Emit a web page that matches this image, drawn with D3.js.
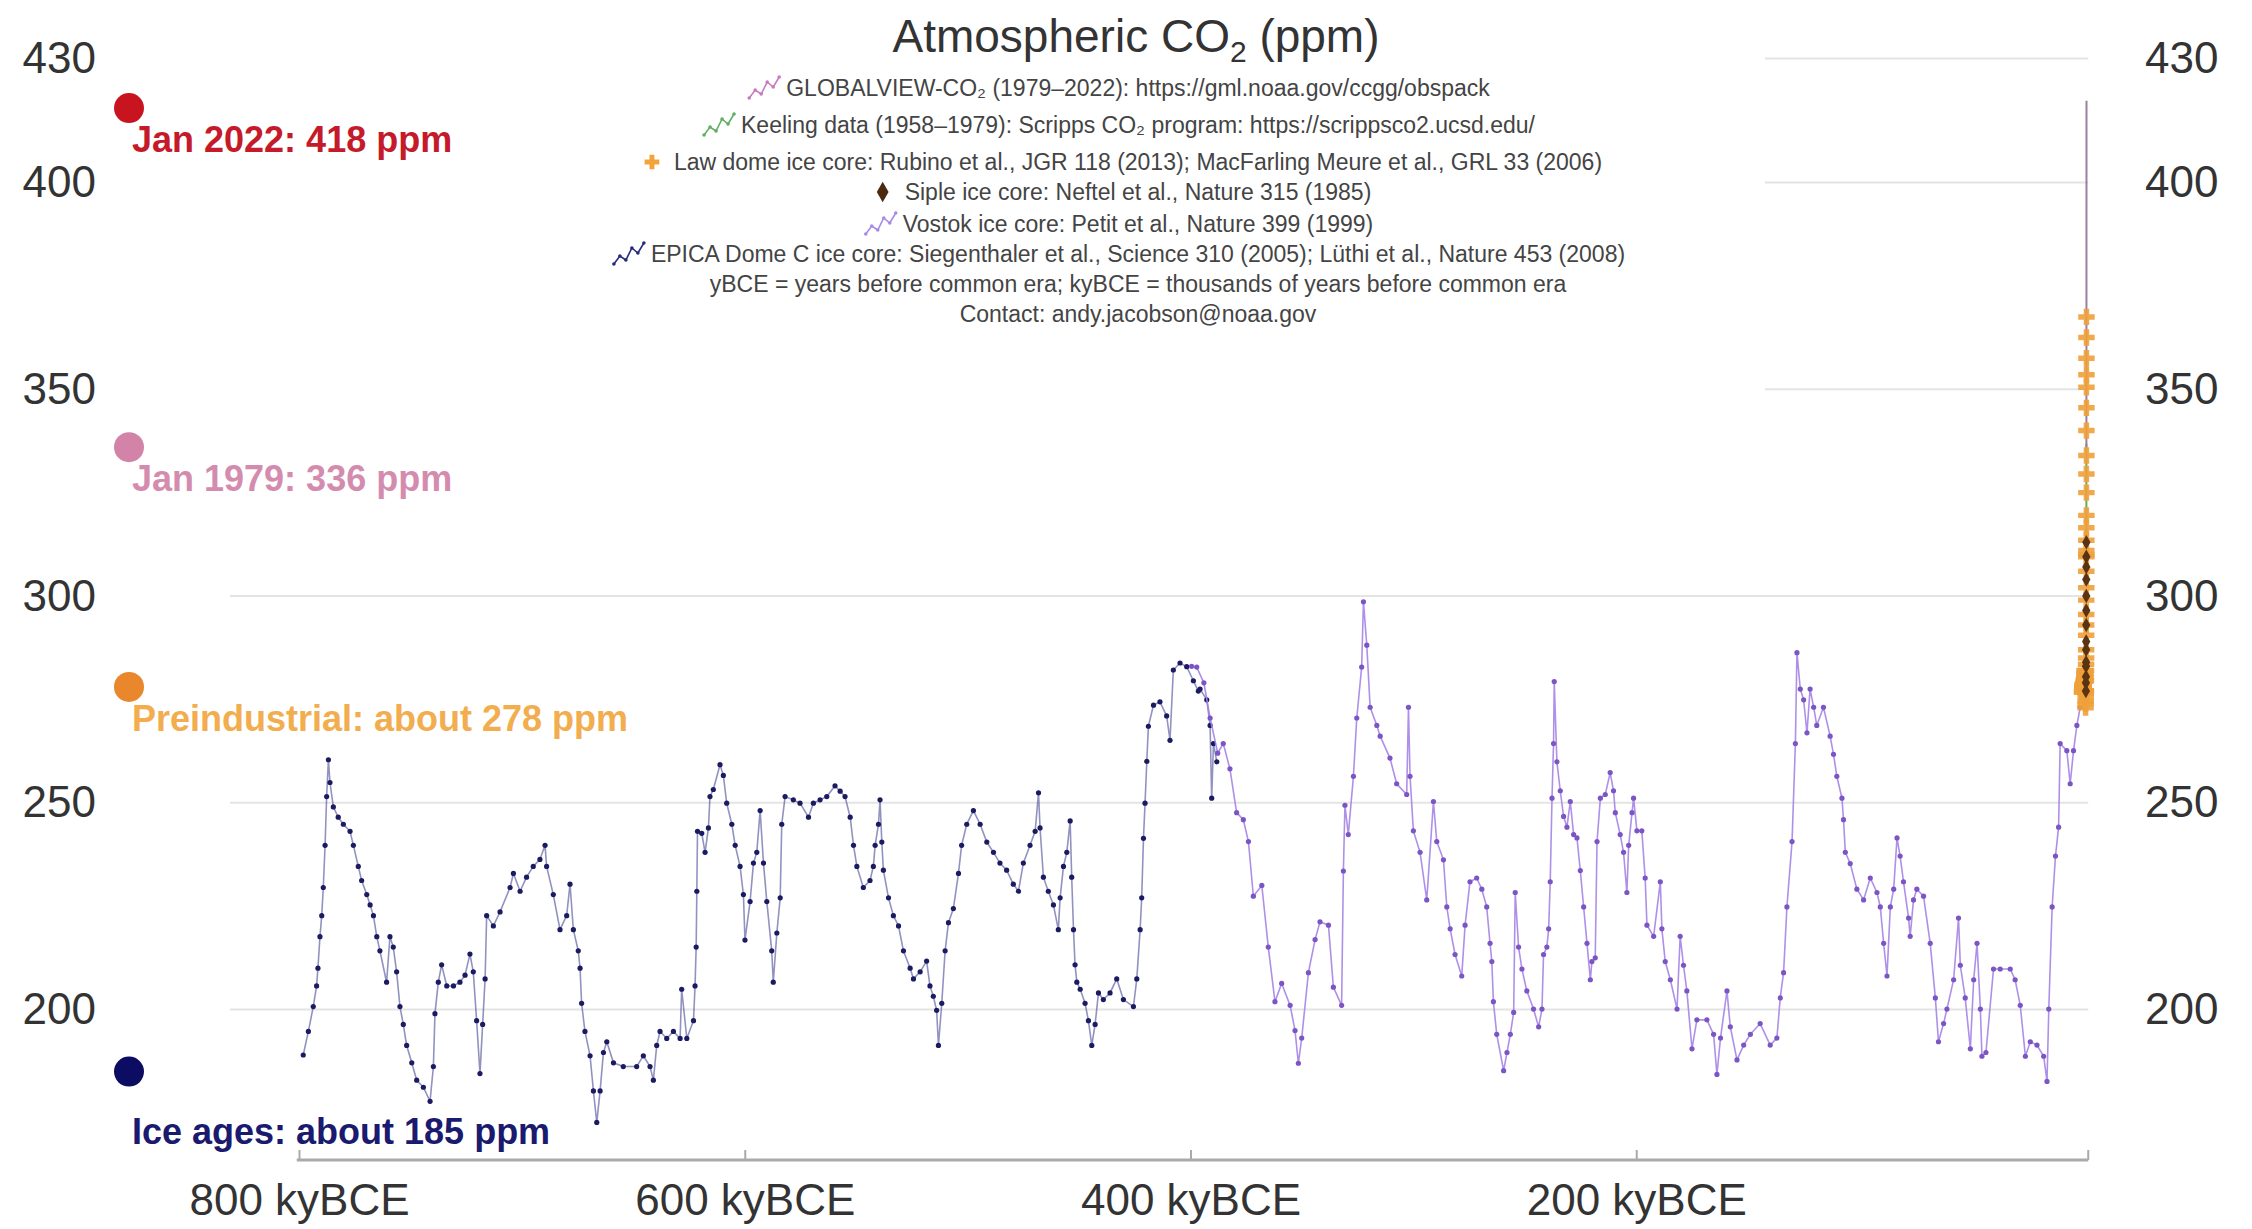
<!DOCTYPE html>
<html>
<head>
<meta charset="utf-8">
<title>Atmospheric CO2 (ppm)</title>
<script src="https://cdn.jsdelivr.net/npm/d3@7"></script>
<style>
  html, body { margin: 0; padding: 0; background: #fff; }
  svg { display: block; font-family: "Liberation Sans", Arial, Helvetica, sans-serif; }
</style>
</head>
<body>
<div id="chart"></div>
<script>
// ---- values ----

// EPICA Dome C ice core: [age kyBCE, CO2 ppm]
const epicaDomeC = [
  [798.1,189.0],[795.8,194.7],[793.6,200.7],[792.1,205.7],[791.5,210.0],[790.6,217.6],[789.8,222.7],[789.1,229.5],
  [788.3,239.7],[787.6,251.5],[786.8,260.4],[786.1,254.9],[784.6,249.0],[782.4,246.5],[780.1,244.8],[777.1,243.1],
  [775.6,239.7],[773.4,234.6],[771.9,231.2],[769.6,227.8],[768.1,225.3],[766.6,222.7],[765.1,217.6],[763.7,214.2],
  [760.7,206.6],[759.2,217.6],[757.7,215.1],[756.2,209.1],[754.7,200.7],[753.2,196.4],[751.7,191.3],[749.4,187.1],
  [747.2,182.9],[744.2,181.2],[741.2,177.8],[739.7,186.2],[739.0,199.0],[737.5,206.6],[736.0,210.8],[733.7,205.7],
  [730.7,205.7],[727.8,206.6],[725.5,208.3],[723.3,213.4],[721.8,209.1],[720.3,197.3],[718.8,184.5],[717.6,196.4],
  [716.5,207.4],[715.8,222.7],[712.8,220.2],[709.8,223.6],[705.3,229.5],[703.8,232.9],[700.8,228.6],[697.9,232.0],
  [694.9,234.6],[691.9,236.3],[689.6,239.7],[688.9,234.6],[685.9,227.8],[682.9,219.3],[679.9,222.7],[678.4,230.3],
  [676.9,219.3],[674.7,214.2],[673.9,210.0],[673.2,201.5],[671.7,194.7],[669.4,188.8],[667.9,180.3],[666.4,172.7],
  [664.9,180.3],[663.4,189.6],[661.9,192.2],[658.9,187.1],[654.5,186.2],[648.5,186.2],[645.5,188.8],[642.5,186.2],
  [641.0,182.9],[639.5,191.3],[638.0,194.7],[635.0,193.0],[632.0,194.7],[629.0,193.0],[628.3,204.9],[626.0,193.0],
  [623.0,197.3],[622.3,205.7],[621.8,215.1],[621.5,228.6],[621.2,243.1],[619.3,242.6],[617.8,238.0],[616.3,243.9],
  [615.6,251.5],[614.1,253.2],[611.1,259.2],[609.6,256.6],[608.1,249.9],[605.8,244.8],[604.3,239.7],[602.1,234.6],
  [600.6,227.8],[599.9,216.8],[597.6,226.1],[596.1,235.4],[594.6,238.0],[593.1,248.1],[591.6,235.4],[590.1,226.1],
  [587.9,214.2],[587.2,206.6],[585.6,218.5],[584.1,227.0],[583.4,244.8],[581.9,251.5],[578.2,250.7],[575.2,249.9],
  [571.4,246.5],[569.2,249.9],[566.2,250.7],[563.2,251.5],[559.5,254.1],[557.2,252.8],[555.0,251.5],[552.7,246.5],
  [551.2,239.7],[549.7,234.6],[546.8,229.5],[543.8,231.2],[542.3,234.6],[541.5,239.7],[540.0,244.8],[539.3,250.7],
  [538.5,240.5],[537.8,233.7],[535.5,227.0],[533.3,222.7],[531.0,220.2],[528.8,214.2],[525.8,210.0],[524.3,207.4],
  [521.3,209.1],[518.4,211.7],[516.9,205.7],[515.4,203.2],[513.9,199.8],[513.1,191.3],[511.6,201.5],[510.1,214.2],
  [508.6,221.0],[506.4,224.4],[504.1,232.9],[502.7,239.7],[500.4,244.8],[497.4,248.1],[494.4,244.8],[491.4,240.5],
  [488.4,238.0],[485.5,235.4],[482.5,233.7],[479.5,230.3],[477.2,228.6],[475.0,235.4],[472.0,239.7],[469.7,243.1],
  [468.2,252.4],[467.5,243.9],[466.0,232.0],[463.8,228.6],[461.5,225.3],[459.3,219.3],[458.5,227.0],[457.0,234.6],
  [455.5,238.0],[454.0,245.6],[453.3,232.0],[452.5,219.3],[451.8,210.8],[451.0,206.6],[449.5,204.9],[447.3,201.5],
  [445.8,197.3],[444.3,191.3],[442.8,196.4],[441.3,204.0],[439.1,202.4],[436.1,204.0],[433.1,207.4],[430.1,202.4],
  [425.6,200.7],[424.1,207.4],[422.6,219.3],[421.9,227.0],[421.1,241.4],[420.4,249.9],[419.6,260.0],[418.9,268.5],
  [416.6,273.6],[413.7,274.4],[410.7,271.0],[409.2,265.1],[407.7,282.1],[404.7,283.8],[401.7,282.9],[398.7,279.5],
  [396.5,277.0],[395.7,277.5],[392.7,274.9],[391.2,268.7],[390.5,251.1],[389.7,264.3],[388.2,259.9]
];

// Vostok ice core: [age kyBCE, CO2 ppm]
const vostok = [
  [399.5,283.0],[397.2,282.8],[394.0,279.0],[391.2,270.5],[387.8,262.0],[385.3,264.3],[382.3,258.2],[379.3,247.6],
  [376.3,245.9],[374.0,240.6],[371.8,227.4],[368.0,230.0],[365.1,215.1],[362.1,201.9],[359.1,206.3],[355.3,201.0],
  [353.1,194.9],[351.6,187.0],[350.1,193.1],[347.1,208.9],[344.1,216.9],[341.9,221.2],[338.1,220.4],[335.9,205.4],
  [332.2,201.0],[331.4,233.5],[330.7,249.4],[329.2,242.3],[326.9,256.4],[325.4,270.5],[323.2,282.8],[322.4,298.6],
  [320.9,288.1],[319.4,273.1],[316.4,268.7],[314.9,266.1],[310.5,260.8],[307.5,254.6],[303.0,252.0],[302.2,273.1],
  [301.5,256.4],[300.0,243.2],[297.0,238.0],[294.0,226.5],[291.0,250.3],[289.5,240.6],[286.5,236.2],[285.0,224.8],
  [283.5,219.5],[281.3,213.3],[278.3,208.1],[276.8,220.4],[274.6,230.9],[271.6,231.8],[269.3,229.1],[267.1,224.8],
  [265.6,216.0],[264.8,211.6],[264.1,201.9],[262.6,194.0],[259.5,185.2],[258.0,189.6],[256.5,194.0],[255.0,199.3],
  [254.3,228.3],[252.8,215.1],[251.3,209.8],[249.1,204.5],[246.1,200.1],[243.8,195.8],[242.3,200.1],[241.6,213.3],
  [240.1,215.1],[239.3,219.5],[238.6,230.9],[237.8,251.1],[237.1,264.3],[236.8,279.3],[235.6,259.9],[234.1,252.9],
  [232.6,246.7],[231.1,244.1],[229.6,250.3],[228.1,242.3],[226.6,241.5],[225.1,233.6],[223.6,224.8],[222.1,216.0],
  [220.6,207.2],[219.9,211.6],[218.4,212.5],[217.6,240.6],[216.1,251.1],[213.9,252.0],[211.7,257.3],[210.2,252.9],
  [209.4,247.6],[207.2,242.3],[205.7,238.0],[204.2,228.3],[203.4,239.7],[201.9,247.6],[201.2,251.1],[199.7,243.2],
  [197.5,243.2],[196.0,231.8],[195.2,220.4],[192.2,217.7],[189.2,230.9],[188.5,219.5],[187.0,211.6],[184.7,207.2],
  [181.7,200.1],[180.3,217.7],[178.8,210.7],[177.3,204.5],[175.0,190.5],[172.8,197.5],[168.3,197.5],[165.3,194.0],
  [163.8,184.3],[162.2,193.1],[159.3,204.5],[157.8,195.8],[154.8,187.8],[151.8,191.4],[148.8,194.0],[144.4,196.6],
  [139.9,191.4],[136.9,193.1],[135.4,202.8],[133.9,208.9],[132.4,224.8],[130.1,240.6],[128.6,264.3],[127.9,286.3],
  [126.4,277.5],[124.9,274.9],[123.4,266.9],[122.0,277.5],[120.4,273.1],[119.0,268.7],[116.0,273.1],[113.0,266.1],
  [111.5,261.7],[110.0,256.4],[107.7,251.1],[107.0,245.9],[106.2,238.0],[104.0,235.3],[101.0,229.1],[98.0,226.5],
  [95.0,231.8],[92.0,228.3],[90.5,224.8],[89.0,216.0],[87.5,208.1],[86.0,224.8],[84.5,229.1],[83.0,241.5],
  [81.6,237.1],[80.1,230.9],[77.8,222.1],[77.1,217.7],[75.6,226.5],[74.1,229.1],[71.1,227.4],[68.1,216.0],
  [65.8,202.8],[64.4,192.2],[62.1,196.6],[60.6,200.1],[57.6,207.2],[55.4,222.1],[54.6,210.7],[52.4,202.8],
  [50.1,190.5],[48.6,207.2],[47.1,216.0],[45.6,200.1],[44.9,188.7],[43.1,189.6],[39.7,209.8],[36.7,209.8],
  [32.2,209.8],[30.0,207.2],[27.7,201.0],[25.4,188.7],[23.2,192.2],[20.2,191.4],[17.2,188.7],[15.7,182.6],
  [14.9,200.1],[13.4,224.8],[11.9,237.1],[10.5,244.1],[9.8,264.3],[6.8,262.6],[5.3,254.6],[3.8,262.6],
  [2.3,268.7],[0.8,273.1]
];

// recent records: [year CE, CO2 ppm]
const lawDome = [
  [0,276.7],[50,277.0],[100,277.2],[150,277.5],[200,277.9],[250,278.1],[300,278.0],[350,278.4],[400,278.6],
  [450,278.8],[500,278.5],[550,278.0],[600,277.5],[650,277.4],[700,277.9],[750,278.4],[800,279.0],[850,279.5],
  [900,279.8],[950,279.6],[1000,279.4],[1050,280.0],[1100,280.3],[1150,281.2],[1200,282.0],[1250,281.8],
  [1300,281.5],[1350,280.5],[1400,279.5],[1450,280.3],[1500,281.3],[1550,280.5],[1575,277.0],[1600,273.0],
  [1625,274.0],[1650,274.5],[1675,275.5],[1700,276.5],[1725,277.0],[1750,277.0],[1775,279.5],[1800,282.0],
  [1825,283.5],[1850,285.0],[1865,287.0],[1880,290.5],[1890,293.0],[1900,295.5],[1910,299.0],[1920,302.0],
  [1930,306.0],[1940,309.5],[1945,310.0],[1950,311.0],[1955,313.5],[1960,316.5],[1965,319.5],[1970,325.0],
  [1974,329.5],[1978,334.0],[1982,340.0],[1985,345.5],[1988,350.5],[1990,353.5],[1993,357.5],[1996,362.5],
  [2004,367.5]
];
const siple = [
  [1744,277.0],[1765,279.0],[1790,280.5],[1815,283.0],[1837,284.0],[1856,287.0],[1873,289.0],[1888,293.0],
  [1903,296.5],[1914,300.0],[1925,304.0],[1935,307.0],[1944,309.5],[1953,313.0]
];
const keeling = [[1958,315.3],[1962,318.4],[1966,321.1],[1970,325.6],[1974,330.2],[1979,336.8]];
const globalview = [
  [1979,336.0],[1983,342.0],[1987,348.0],[1991,355.0],[1995,360.0],[1999,367.0],[2003,375.0],[2007,383.0],
  [2011,390.5],[2015,399.5],[2019,410.5],[2021.4,419.8],[2022.0,418.0]
];

const yTicks = [200, 250, 300, 350, 400, 430];
const xTicks = [800, 600, 400, 200];
const xTickLabels = ['800 kyBCE', '600 kyBCE', '400 kyBCE', '200 kyBCE'];

const markerValues = [418, 336, 278, 185];
const markerLabels = ['Jan 2022: 418 ppm', 'Jan 1979: 336 ppm', 'Preindustrial: about 278 ppm', 'Ice ages: about 185 ppm'];

const legendLabels = [
  'GLOBALVIEW-CO\u2082 (1979\u20132022): https://gml.noaa.gov/ccgg/obspack',
  'Keeling data (1958\u20131979): Scripps CO\u2082 program: https://scrippsco2.ucsd.edu/',
  'Law dome ice core: Rubino et al., JGR 118 (2013); MacFarling Meure et al., GRL 33 (2006)',
  'Siple ice core: Neftel et al., Nature 315 (1985)',
  'Vostok ice core: Petit et al., Nature 399 (1999)',
  'EPICA Dome C ice core: Siegenthaler et al., Science 310 (2005); L\u00fcthi et al., Nature 453 (2008)',
  'yBCE = years before common era; kyBCE = thousands of years before common era',
  'Contact: andy.jacobson@noaa.gov'
];

// ---- styles ----
const markerColors = ['#c8141e', '#d483a8', '#e8872c', '#0c0c62'];
const markerTextColors = ['#c41a2a', '#d48cae', '#f2ad4e', '#1a1a6e'];
const markerTextOffset = [44, 44, 44, 72];
const legendIcons = ['zig', 'zig', 'cross', 'diamond', 'zig', 'zig', null, null];
const legendColors = ['#c77bbd', '#63ad63', '#f2a33a', '#4b2a10', '#a98ae8', '#2a2a80', null, null];
const legendRowY = [88, 125, 162, 192, 224, 254, 284, 314];

function drawChart() {
    const width = 2252;
    const height = 1229;
    const axisY = 1160;

    const svg = d3.select('#chart')
        .append('svg')
        .attr('width', width)
        .attr('height', height)
        .attr('viewBox', `0 0 ${width} ${height}`);

    svg.append('rect').attr('width', width).attr('height', height).attr('fill', '#fff');

    // kyBCE runs right to left
    const x = d3.scaleLinear().domain([800, 0]).range([299, 2082]);
    const y = d3.scaleLinear().domain([200, 300]).range([1009.5, 596]);
    const yearToKy = yr => -yr / 1000;

    // grid lines
    svg.append('g')
        .selectAll('line')
        .data(yTicks)
        .enter().append('line')
        .attr('x1', 230)
        .attr('x2', x(-2.8))
        .attr('y1', d => y(d))
        .attr('y2', d => y(d))
        .attr('stroke', '#e4e4e4')
        .attr('stroke-width', 2);

    // white legend panel hides the upper grid lines
    svg.append('rect')
        .attr('x', 0).attr('y', 0)
        .attr('width', 1765).attr('height', 420)
        .attr('fill', '#fff');

    // x axis
    const xAxis = d3.axisBottom(x)
        .tickValues(xTicks)
        .tickFormat((d, i) => xTickLabels[i])
        .tickSizeInner(-10)
        .tickSizeOuter(0)
        .tickPadding(24);

    const gx = svg.append('g')
        .attr('transform', `translate(0,${axisY})`)
        .call(xAxis);
    gx.select('.domain').remove();
    gx.selectAll('.tick line').attr('stroke', '#aaa').attr('stroke-width', 2);
    gx.selectAll('.tick text')
        .attr('font-size', 44)
        .attr('font-family', '"Liberation Sans", Arial, sans-serif')
        .attr('fill', '#333');
    gx.append('line')
        .attr('x1', x(801)).attr('x2', x(-2.8))
        .attr('stroke', '#aaa').attr('stroke-width', 3);
    gx.append('line')
        .attr('x1', x(-2.8)).attr('x2', x(-2.8))
        .attr('y1', 0).attr('y2', -10)
        .attr('stroke', '#aaa').attr('stroke-width', 2);

    // y axes on both sides
    const styleY = g => {
        g.select('.domain').remove();
        g.selectAll('.tick line').remove();
        g.selectAll('.tick text')
            .attr('font-size', 44)
            .attr('font-family', '"Liberation Sans", Arial, sans-serif')
            .attr('fill', '#333');
    };
    svg.append('g')
        .attr('transform', 'translate(98,0)')
        .call(d3.axisLeft(y).tickValues(yTicks).tickSize(0).tickPadding(2))
        .call(styleY);
    svg.append('g')
        .attr('transform', 'translate(2143,0)')
        .call(d3.axisRight(y).tickValues(yTicks).tickSize(0).tickPadding(2))
        .call(styleY);

    // ice core series
    const line = d3.line().x(d => x(d[0])).y(d => y(d[1]));

    function drawSeries(data, lineColor, lineOpacity, dotColor) {
        const g = svg.append('g');
        g.append('path')
            .datum(data)
            .attr('fill', 'none')
            .attr('stroke', lineColor)
            .attr('stroke-opacity', lineOpacity)
            .attr('stroke-width', 1.6)
            .attr('d', line);
        g.selectAll('circle')
            .data(data)
            .enter().append('circle')
            .attr('cx', d => x(d[0]))
            .attr('cy', d => y(d[1]))
            .attr('r', 2.6)
            .attr('fill', dotColor);
    }

    drawSeries(epicaDomeC, '#4a4a96', 0.6, '#1b1b62');
    drawSeries(vostok, '#a584e6', 0.9, '#7c55c4');

    // recent records, squeezed into the last few pixels
    const recentLine = d3.line().x(d => x(yearToKy(d[0]))).y(d => y(d[1]));

    svg.append('path')
        .datum(keeling)
        .attr('fill', 'none')
        .attr('stroke', '#63ad63')
        .attr('stroke-width', 2)
        .attr('d', recentLine);

    svg.append('path')
        .datum(globalview)
        .attr('fill', 'none')
        .attr('stroke', '#9b7fa0')
        .attr('stroke-width', 2)
        .attr('d', recentLine);

    svg.append('g')
        .selectAll('path')
        .data(lawDome)
        .enter().append('path')
        .attr('transform', d => `translate(${x(yearToKy(d[0]))},${y(d[1])})`)
        .attr('d', d3.symbol(d3.symbolCross, 150))
        .attr('fill', '#eea03a')
        .attr('opacity', 0.9);

    svg.append('g')
        .selectAll('path')
        .data(siple)
        .enter().append('path')
        .attr('transform', d => `translate(${x(yearToKy(d[0]))},${y(d[1])})`)
        .attr('d', d3.symbol(d3.symbolDiamond, 60))
        .attr('fill', '#5a3312');

    // reference markers on the left
    markerValues.forEach((v, i) => {
        svg.append('circle')
            .attr('cx', 129)
            .attr('cy', y(v))
            .attr('r', 15)
            .attr('fill', markerColors[i]);
        svg.append('text')
            .attr('x', 132)
            .attr('y', y(v) + markerTextOffset[i])
            .attr('font-size', 36)
            .attr('font-weight', 'bold')
            .attr('fill', markerTextColors[i])
            .attr('stroke', '#fff')
            .attr('stroke-width', 5)
            .attr('paint-order', 'stroke')
            .text(markerLabels[i]);
    });

    // title
    const title = svg.append('text')
        .attr('x', 1136)
        .attr('y', 52)
        .attr('text-anchor', 'middle')
        .attr('font-size', 46)
        .attr('fill', '#333');
    title.append('tspan').text('Atmospheric CO');
    title.append('tspan').attr('font-size', 30).attr('dy', 10).text('2');
    title.append('tspan').attr('dy', -10).text(' (ppm)');

    // legend rows
    const legendX = 1138;
    legendLabels.forEach((label, i) => {
        const row = svg.append('g');
        const t = row.append('text')
            .attr('x', legendX)
            .attr('y', legendRowY[i] + 8)
            .attr('text-anchor', 'middle')
            .attr('font-size', 23)
            .attr('fill', '#444')
            .text(label);
        if (!legendIcons[i]) return;
        const box = t.node().getBBox();
        const ix = box.x - 22;
        const iy = legendRowY[i];
        const c = legendColors[i];
        if (legendIcons[i] === 'zig') {
            const pts = [[-15, 10], [-9, 2], [-3, 6], [3, -6], [9, -1], [15, -11]];
            row.append('path')
                .attr('d', d3.line()(pts.map(p => [ix + p[0], iy + p[1]])))
                .attr('fill', 'none')
                .attr('stroke', c)
                .attr('stroke-width', 1.6);
            pts.forEach(p => {
                row.append('circle')
                    .attr('cx', ix + p[0]).attr('cy', iy + p[1])
                    .attr('r', 1.8).attr('fill', c);
            });
        } else {
            const sym = legendIcons[i] === 'cross' ? d3.symbolCross : d3.symbolDiamond;
            row.append('path')
                .attr('transform', `translate(${ix},${iy})`)
                .attr('d', d3.symbol(sym, 120))
                .attr('fill', c);
        }
    });
}

drawChart();
</script>
</body>
</html>
